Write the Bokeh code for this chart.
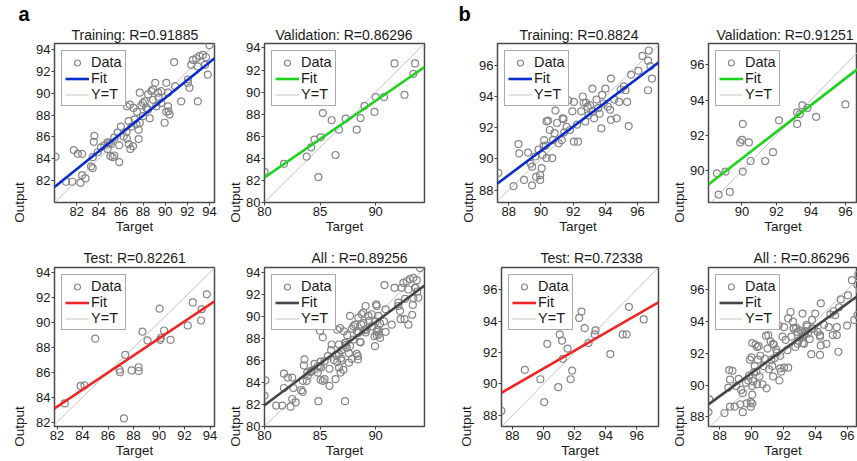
from bokeh.plotting import figure
from bokeh.layouts import column, row
from bokeh.models import Title, FixedTicker, Legend, LegendItem, Range1d
from bokeh.embed import file_html
from bokeh.resources import INLINE

FONT = "Liberation Sans"

# ---------------- group a ----------------
a_train_target = [80.1, 81.05, 81.6, 82.35, 82.5, 82.8, 83.3, 83.45, 81.75, 82.1, 82.5, 83.45, 83.6, 83.55,
                  84.5, 84.8, 84.95, 85.1, 85.05, 85.25, 85.4, 85.85, 85.7, 86.0, 86.25, 85.85, 86.55, 86.7,
                  86.85, 87.1, 86.8, 86.55, 86.7, 87.25, 87.4, 87.6, 87.6, 87.45, 87.7, 87.85, 88.0, 88.15,
                  88.3, 88.45, 88.0, 88.6, 88.75, 88.9, 89.1, 89.35, 89.4, 89.65, 89.95, 90.1, 90.25, 90.25,
                  90.3, 90.4, 90.1, 90.8, 90.9, 91.45, 92.05, 92.2, 92.05, 92.95, 92.35, 92.5, 92.8, 93.1,
                  93.4, 93.7, 93.85, 94.0, 93.6, 92.95, 87.15, 87.7, 86.95, 86.5, 85.4, 84.8, 84.2, 83.9,
                  88.9, 89.2, 89.65, 88.45]
a_train_output = [84.2, 81.9, 81.9, 81.8, 82.5, 82.2, 83.3, 83.15, 84.8, 84.45, 84.45, 84.15, 86.1, 85.55,
                  85.2, 85.5, 85.45, 85.35, 84.25, 84.15, 84.3, 83.7, 86.4, 86.95, 86.05, 85.25, 85.85, 85.35,
                  84.9, 85.15, 88.95, 88.8, 87.45, 87.6, 87.15, 86.65, 85.8, 88.3, 90.05, 88.9, 89.1, 89.25,
                  88.65, 88.5, 87.9, 87.7, 90.2, 90.35, 90.95, 90.05, 89.6, 89.1, 87.3, 90.95, 90.05, 88.8,
                  88.35, 88.05, 88.3, 92.85, 90.65, 89.25, 90.95, 90.5, 91.25, 89.25, 92.6, 93.05, 93.2, 93.4,
                  93.5, 93.3, 91.7, 94.4, 92.6, 92.45, 88.65, 87.3, 86.95, 86.45, 85.95, 84.9, 85.05, 84.6,
                  89.4, 88.8, 90.2, 89.9]

a_val_target = [80.0, 81.75, 83.8, 84.2, 84.5, 85.05, 84.85, 85.25, 86.05, 86.4, 86.7, 87.3, 88.3, 88.65,
                89.0, 89.9, 90.0, 90.75, 91.7, 92.6, 93.4, 93.55]
a_val_output = [82.8, 83.5, 84.15, 85.0, 85.7, 85.9, 82.3, 88.1, 87.45, 84.3, 86.6, 87.6, 86.6, 87.65,
                88.75, 88.2, 89.55, 89.55, 92.6, 89.75, 91.65, 92.6]

a_test_target = [82.6, 83.85, 84.15, 85.0, 86.9, 86.95, 87.35, 87.25, 87.85, 88.4, 88.4, 88.7, 89.1, 90.05,
                 90.1, 90.15, 90.4, 90.9, 92.25, 92.65, 93.3, 93.35, 93.75]
a_test_output = [83.5, 84.9, 84.95, 88.7, 86.2, 86.0, 87.4, 82.3, 86.15, 86.4, 86.1, 89.25, 88.55, 91.1,
                 88.6, 88.75, 89.35, 88.6, 89.75, 91.6, 90.15, 91.05, 92.25]

# ---------------- group b ----------------
b_train_target = [87.35, 88.3, 88.6, 88.65, 88.95, 89.2, 89.35, 89.45, 89.45, 89.65, 89.7, 89.85, 89.95, 89.95,
                  90.05, 90.1, 90.15, 90.2, 90.3, 90.35, 90.35, 90.45, 90.55, 90.7, 90.75, 90.85, 90.9, 91.1,
                  91.3, 91.35, 91.4, 91.45, 91.6, 91.7, 91.95, 92.05, 92.05, 92.25, 92.3, 92.5, 92.6, 92.65,
                  92.75, 92.8, 92.9, 93.05, 93.2, 93.2, 93.3, 93.45, 93.55, 93.65, 93.75, 93.8, 93.9, 94.0,
                  94.15, 94.3, 94.35, 94.7, 94.35, 94.55, 94.85, 94.95, 95.15, 95.25, 95.35, 95.45, 95.6,
                  96.05, 96.3, 96.7, 96.65, 96.8, 96.65, 96.9, 91.0, 91.8, 92.95]
b_train_output = [89.1, 88.25, 90.95, 90.35, 88.65, 90.4, 89.7, 89.5, 88.3, 90.15, 88.85, 90.6, 88.95, 88.65,
                  89.4, 90.25, 90.8, 91.2, 90.85, 90.05, 92.4, 92.45, 91.85, 90.05, 91.2, 91.65, 93.1, 91.0,
                  91.2, 92.6, 92.55, 91.7, 92.05, 93.75, 93.05, 93.65, 91.1, 92.2, 91.1, 93.05, 94.0, 93.6,
                  92.4, 93.6, 93.35, 93.45, 94.5, 93.05, 92.6, 93.8, 93.25, 92.9, 91.95, 94.1, 93.55, 94.5,
                  93.35, 93.15, 92.5, 92.6, 95.15, 93.8, 93.65, 94.45, 94.65, 94.4, 93.65, 92.1, 95.4,
                  95.65, 96.6, 96.95, 96.3, 95.95, 94.4, 95.15, 92.3, 91.85, 92.8]

b_val_target = [88.55, 88.65, 89.05, 89.3, 89.9, 90.0, 90.05, 90.05, 90.4, 90.5, 91.35, 91.8, 92.15, 93.2,
                93.2, 93.35, 93.5, 93.8, 94.3, 96.0]
b_val_output = [89.85, 88.65, 89.95, 88.8, 91.6, 91.75, 92.65, 89.95, 91.6, 90.55, 90.55, 91.05, 92.85, 93.3,
                92.65, 93.2, 93.7, 93.55, 93.05, 93.75]

b_test_target = [87.3, 88.8, 89.8, 90.05, 90.25, 90.95, 91.05, 91.2, 91.25, 91.55, 91.85, 91.75, 92.3, 92.45,
                 92.65, 92.9, 93.3, 93.35, 94.3, 95.1, 95.35, 95.5, 96.45]
b_test_output = [88.3, 90.9, 90.3, 88.85, 92.55, 89.8, 93.15, 92.75, 91.6, 92.25, 90.85, 90.3, 94.2, 94.6,
                 93.55, 92.6, 93.15, 93.4, 91.9, 93.15, 93.15, 94.9, 94.1]

# "All" = union of training, validation and test sets
a_all_target = a_train_target + a_val_target + a_test_target
a_all_output = a_train_output + a_val_output + a_test_output
b_all_target = b_train_target + b_val_target + b_test_target
b_all_output = b_train_output + b_val_output + b_test_output

# panel order: a-train, a-val, a-test, a-all, b-train, b-val, b-test, b-all
# regression fits (Output = slope * Target + intercept)
fit_slope = [0.815, 0.694, 0.684, 0.755, 0.776, 0.755, 0.569, 0.728]
fit_intercept = [16.22, 26.75, 27.15, 21.54, 20.67, 22.74, 39.77, 25.24]

titles = ["Training: R=0.91885", "Validation: R=0.86296", "Test: R=0.82261", "All : R=0.89256",
          "Training: R=0.8824", "Validation: R=0.91251", "Test: R=0.72338", "All : R=0.86296"]

# axis limits (the right-hand panels are cut by the page edge)
x_limits = [(80, 94.45), (80, 94.4), (81.8, 94.35), (80, 94.4),
            (87.3, 97.3), (88.06, 96.7), (87.3, 97.4), (87.3, 96.65)]
y_limits = [(80, 94.55), (80, 94.4), (81.65, 94.4), (80, 94.45),
            (87.2, 97.4), (88.2, 97.2), (87.3, 97.4), (87.4, 97.4)]

a_ticks_2 = [82, 84, 86, 88, 90, 92, 94]
a_ticks_y = [80, 82, 84, 86, 88, 90, 92, 94]
a_ticks_5 = [80, 85, 90]
b_ticks = [88, 90, 92, 94, 96]
x_ticks = [a_ticks_2, a_ticks_5, a_ticks_2, a_ticks_5, b_ticks, b_ticks, b_ticks, b_ticks]
y_ticks = [a_ticks_2, a_ticks_y, a_ticks_2, a_ticks_y, b_ticks, b_ticks, b_ticks, b_ticks]

fit_colors = ["#0a2ccc", "#1ed21e", "#f02424", "#454545"]

data = [(a_train_target, a_train_output), (a_val_target, a_val_output),
        (a_test_target, a_test_output), (a_all_target, a_all_output),
        (b_train_target, b_train_output), (b_val_target, b_val_output),
        (b_test_target, b_test_output), (b_all_target, b_all_output)]

# layout (pixels); per-column
col_width = [224, 232, 212, 189]
col_left = [54, 40, 41, 40]
col_right = [10, 32, 10, 0]
# per-panel (same order as data)
title_offset = [17, 11, 29, 47, 22, 8, 39, 45]
ylabel_standoff = [6, 0, 6, 0, 0, 0, 6, 0]


def panel(i, col, rw):
    top, bottom, height = (42, 38, 240) if rw == 0 else (27, 35, 221)
    xl, yl = x_limits[i], y_limits[i]
    p = figure(width=col_width[col], height=height, x_range=Range1d(*xl), y_range=Range1d(*yl),
               output_backend="svg", toolbar_location=None, title=None,
               min_border_left=col_left[col], min_border_right=col_right[col],
               min_border_top=top, min_border_bottom=bottom)
    p.xgrid.visible = False
    p.ygrid.visible = False
    p.outline_line_color = "#4a4a4a"
    p.outline_line_width = 1.5
    p.background_fill_color = "white"
    p.border_fill_color = "white"

    p.add_layout(Title(text=titles[i], align="left", offset=title_offset[i],
                       standoff=1 if rw == 0 else 3,
                       text_font=FONT, text_font_size="14px", text_font_style="normal",
                       text_color="#1a1a1a"), "above")
    if rw == 0 and col in (0, 2):
        p.add_layout(Title(text="a" if col == 0 else "b", align="left", offset=-36 if col == 0 else -39,
                           standoff=0, text_font=FONT, text_font_size="20px", text_font_style="bold",
                           text_color="#000000"), "above")

    p.xaxis.axis_label = "Target"
    p.yaxis.axis_label = "Output"
    p.xaxis.ticker = FixedTicker(ticks=x_ticks[i])
    p.yaxis.ticker = FixedTicker(ticks=y_ticks[i])
    p.yaxis.axis_label_align = "start"
    p.yaxis.axis_label_standoff = ylabel_standoff[i]
    p.xaxis.axis_label_standoff = 0
    for ax in (p.xaxis[0], p.yaxis[0]):
        ax.axis_line_color = None
        ax.major_tick_out = 3
        ax.major_tick_in = 0
        ax.minor_tick_out = 0
        ax.minor_tick_in = 0
        ax.major_tick_line_color = "#444444"
        ax.major_label_standoff = 1
        ax.major_label_text_font = FONT
        ax.major_label_text_font_size = "13px"
        ax.major_label_text_color = "#1a1a1a"
        ax.axis_label_text_font = FONT
        ax.axis_label_text_font_size = "13.5px"
        ax.axis_label_text_font_style = "normal"
        ax.axis_label_text_color = "#1a1a1a"

    lo = min(xl[0], yl[0])
    hi = max(xl[1], yl[1])
    r_id = p.line([lo, hi], [lo, hi], line_color="#c4c4c4", line_width=1)
    t, o = data[i]
    r_data = p.scatter(t, o, marker="circle", size=7, fill_color=None, line_color="#858585",
                       line_width=1.2)
    fx = [xl[0], xl[1]]
    fy = [fit_slope[i] * v + fit_intercept[i] for v in fx]
    r_fit = p.line(fx, fy, line_color=fit_colors[i % 4], line_width=2.6)

    legend = Legend(items=[LegendItem(label="Data", renderers=[r_data]),
                           LegendItem(label="Fit", renderers=[r_fit]),
                           LegendItem(label="Y=T", renderers=[r_id])],
                    location="top_left", margin=7, padding=3, spacing=0,
                    glyph_width=24, glyph_height=15, label_height=15, label_standoff=2,
                    label_text_font=FONT, label_text_font_size="14.5px",
                    label_text_color="#1a1a1a",
                    border_line_color="#555555", border_line_width=1.5,
                    background_fill_color="white", background_fill_alpha=1)
    p.add_layout(legend)
    return p


order_row1 = [0, 1, 4, 5]
order_row2 = [2, 3, 6, 7]
row1 = row([panel(i, c, 0) for c, i in enumerate(order_row1)], spacing=0)
row2 = row([panel(i, c, 1) for c, i in enumerate(order_row2)], spacing=0)
layout = column(row1, row2, spacing=0)

open("out.html", "w").write(file_html(layout, INLINE))
